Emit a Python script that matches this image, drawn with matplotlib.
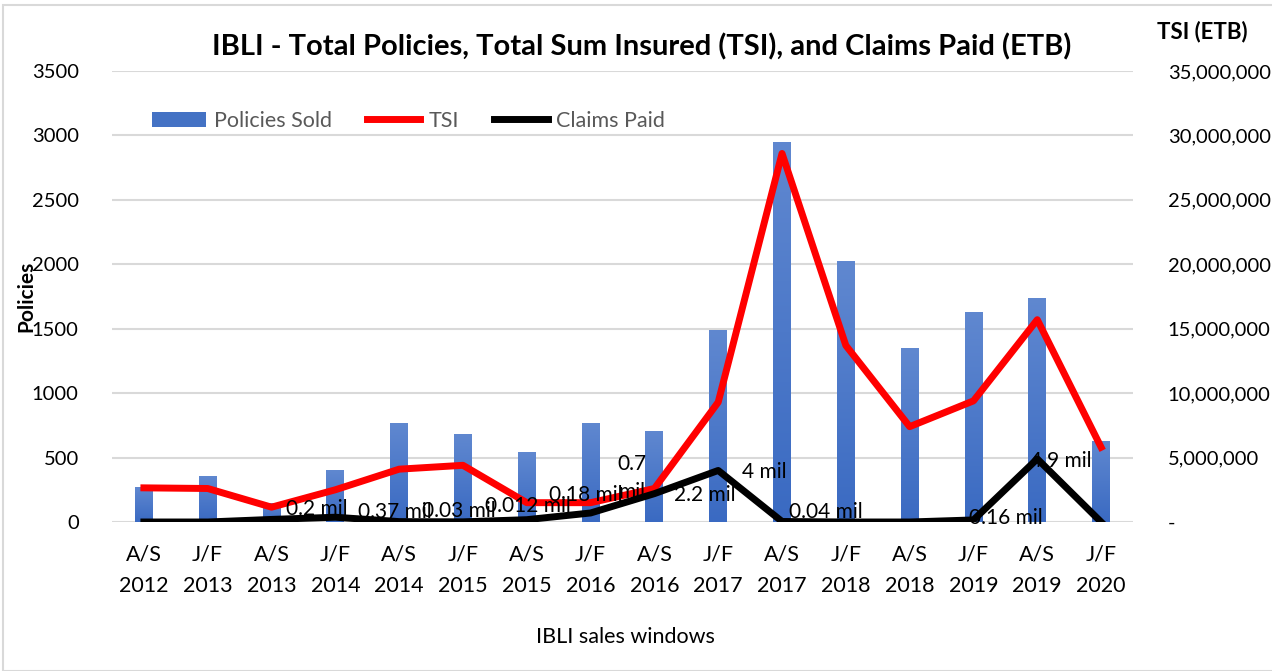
"""IBLI policies sold, total sum insured and claims paid per sales window."""

import matplotlib
matplotlib.use("Agg")
import matplotlib.pyplot as plt
import numpy as np
from matplotlib.patches import Rectangle
from matplotlib.ticker import FuncFormatter

windows = ["A/S\n2012", "J/F\n2013", "A/S\n2013", "J/F\n2014", "A/S\n2014", "J/F\n2015",
           "A/S\n2015", "J/F\n2016", "A/S\n2016", "J/F\n2017", "A/S\n2017", "J/F\n2018",
           "A/S\n2018", "J/F\n2019", "A/S\n2019", "J/F\n2020"]
policies_sold = [270, 360, 150, 400, 770, 680, 540, 770, 710, 1490, 2950, 2025, 1350, 1630, 1740, 630]
tsi = [2.65e6, 2.6e6, 1.15e6, 2.5e6, 4.1e6, 4.4e6, 1.5e6, 1.5e6, 2.6e6, 9.3e6,
       28.6e6, 13.7e6, 7.4e6, 9.4e6, 15.7e6, 5.8e6]
claims_paid = [0, 0, 0.2e6, 0.37e6, 0.03e6, 0.012e6, 0.18e6, 0.7e6, 2.2e6, 4.0e6,
               0.04e6, 0, 0, 0.16e6, 4.9e6, 0]
# (index, label text) for the claims data labels
claim_labels = [(2, "0.2 mil"), (3, "0.37 mil"), (4, "0.03 mil"), (5, "0.012 mil"),
                (6, "0.18 mil"), (7, "0.7\nmil"), (8, "2.2 mil"), (9, "4 mil"),
                (10, "0.04 mil"), (13, "0.16 mil"), (14, "4.9 mil")]
# label offsets in pixels from the point
label_offsets = {2: (14, 10), 3: (23, 5), 4: (23, 11), 5: (22, 16), 6: (22, 25),
                 7: (27, 35), 8: (20, -1), 9: (24, -2), 10: (7, 9), 13: (-4, 2), 14: (-7, -2)}

plt.rcParams["font.family"] = ["Lato", "DejaVu Sans"]

fig = plt.figure(figsize=(12.72, 6.71), dpi=100)
fig.patches.append(Rectangle((3 / 1272, 0), 1.0, 1 - 5 / 671, transform=fig.transFigure,
                             fill=False, edgecolor="#D9D9D9", linewidth=1.5))
ax = fig.add_axes([112 / 1272, 1 - 522 / 671, (1133 - 112) / 1272, (522 - 71) / 671])
ax2 = ax.twinx()

x = np.arange(len(windows))
bars = ax.bar(x, policies_sold, width=0.28, color="#4472C4", label="Policies Sold", zorder=2)

# vertical gradient on each bar, lighter at the top
grad = np.linspace(0, 1, 256).reshape(-1, 1)
cmap = matplotlib.colors.LinearSegmentedColormap.from_list("b", ["#3A6AC2", "#6088D0"])
for b in bars:
    x0, y0, w, h = b.get_x(), b.get_y(), b.get_width(), b.get_height()
    im = ax.imshow(grad, extent=[x0, x0 + w, y0, y0 + h], origin="lower", cmap=cmap,
                   aspect="auto", zorder=2.1)
    im.set_clip_path(b)

ax.set_xlim(-0.5, len(windows) - 0.5)
ax.set_ylim(0, 3500)
ax.set_yticks(range(0, 3501, 500))
ax.grid(axis="y", color="#D9D9D9", linewidth=1.5, zorder=0)
ax.set_axisbelow(True)
ax.set_xticks(x)
ax.set_xticklabels(windows, fontsize=15.5, linespacing=1.75)
ax.tick_params(axis="x", length=0, pad=16)
ax.tick_params(axis="y", length=0, labelsize=14.5, pad=24)
for s in ax.spines.values():
    s.set_visible(False)

ax2.plot(x, tsi, color="#FF0000", linewidth=5, label="TSI", zorder=3)
ax2.plot(x, claims_paid, color="#000000", linewidth=5, label="Claims Paid", zorder=3)
ax2.set_ylim(0, 35e6)
ax2.set_yticks(np.arange(0, 35e6 + 1, 5e6))
ax2.yaxis.set_major_formatter(FuncFormatter(lambda v, p: "-" if v == 0 else f"{v:,.0f}"))
ax2.tick_params(length=0, labelsize=14.5, pad=25)
for s in ax2.spines.values():
    s.set_visible(False)

for i, txt in claim_labels:
    dx, dy = label_offsets[i]
    ax2.annotate(txt, (x[i], claims_paid[i]), xytext=(dx, dy), textcoords="offset pixels",
                 ha="left", va="center", fontsize=15, color="black", multialignment="center",
                 linespacing=1.5, zorder=4)

h1, l1 = ax.get_legend_handles_labels()
h2, l2 = ax2.get_legend_handles_labels()
ax2.legend(h1 + h2, l1 + l2, loc="upper left", bbox_to_anchor=(0.02, 0.955), ncol=3,
           frameon=False, fontsize=15.5, labelcolor="#595959", handlelength=2.5,
           handletextpad=0.4, columnspacing=1.6)

fig.text(642 / 1272, 1 - 47 / 671, "IBLI - Total Policies, Total Sum Insured (TSI), and Claims Paid (ETB)",
         ha="center", va="center", fontsize=21, fontweight="bold")
fig.text(1202 / 1272, 1 - 32 / 671, "TSI (ETB)", ha="center", va="center", fontsize=16,
         fontweight="bold")
fig.text(26 / 1272, 1 - 296 / 671, "Policies", ha="center", va="center", rotation=90,
         fontsize=15, fontweight="bold")
fig.text(625 / 1272, 1 - 637 / 671, "IBLI sales windows", ha="center", va="center", fontsize=15.5)

fig.savefig("out.png", dpi=100)
